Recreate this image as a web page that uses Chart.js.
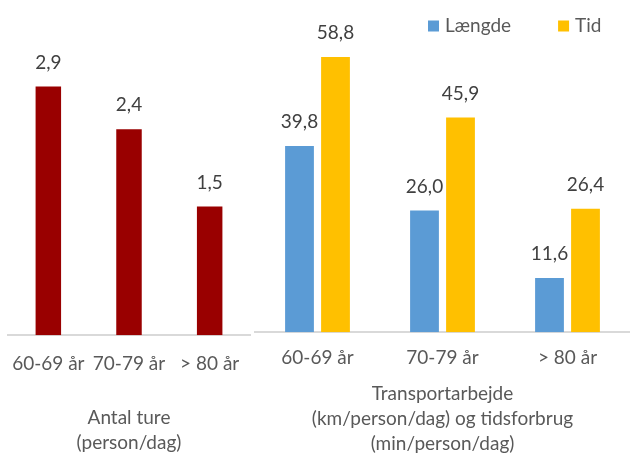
<!DOCTYPE html>
<html>
<head>
<meta charset="utf-8">
<script src="https://cdn.jsdelivr.net/npm/chart.js@4.4.1/dist/chart.umd.min.js"></script>
<style>
  html, body { margin: 0; padding: 0; background: #fff; }
  #wrap { position: relative; width: 630px; height: 453px; overflow: hidden; }
  .box { position: absolute; top: 0; height: 453px; }
  #left { left: 0; width: 252px; }
  #right { left: 252px; width: 378px; }
</style>
</head>
<body>
<div id="wrap">
  <div class="box" id="left"><canvas id="tripsChart"></canvas></div>
  <div class="box" id="right"><canvas id="workChart"></canvas></div>
</div>
<script>
// Data
const ageGroups = ['60-69 år', '70-79 år', '> 80 år'];
const tripsPerDay = [2.9, 2.4, 1.5];
const distanceKm = [39.8, 26.0, 11.6];
const timeMin = [58.8, 45.9, 26.4];
const seriesNames = ['Længde', 'Tid'];
const tripsTitle = ['Antal ture', '(person/dag)'];
const workTitle = ['Transportarbejde', '(km/person/dag) og tidsforbrug', '(min/person/dag)'];

const FONT = 'Lato, "Open Sans", sans-serif';
Chart.defaults.font.family = FONT;
Chart.defaults.font.size = 19;
Chart.defaults.color = '#595959';

// value above each bar, danish decimal comma
const valueLabels = {
    id: 'valueLabels',
    afterDatasetsDraw(chart) {
        const ctx = chart.ctx;
        ctx.save();
        ctx.font = '19px ' + FONT;
        ctx.fillStyle = '#404040';
        ctx.textAlign = 'center';
        ctx.textBaseline = 'middle';
        chart.data.datasets.forEach((ds, i) => {
            chart.getDatasetMeta(i).data.forEach((bar, j) => {
                ctx.fillText(ds.data[j].toFixed(1).replace('.', ','), bar.x, bar.y - 24);
            });
        });
        ctx.restore();
    }
};

// small legend in the top right corner, drawn over the plot
const cornerLegend = {
    id: 'cornerLegend',
    afterDraw(chart, args, opts) {
        const ctx = chart.ctx;
        let x = opts.x;
        ctx.save();
        ctx.font = '19px ' + FONT;
        ctx.textBaseline = 'middle';
        ctx.textAlign = 'left';
        chart.data.datasets.forEach(ds => {
            ctx.fillStyle = ds.backgroundColor;
            ctx.fillRect(x, opts.y - 5.5, 11, 11);
            ctx.fillStyle = '#595959';
            ctx.fillText(ds.label, x + 17, opts.y);
            x += 17 + ctx.measureText(ds.label).width + opts.spacing;
        });
        ctx.restore();
    }
};

function xAxis(title, tickPad, titleTop, titleBottom) {
    return {
        grid: { display: false },
        border: { display: true, color: '#d9d9d9', width: 2 },
        ticks: { padding: tickPad, maxRotation: 0, autoSkip: false, font: { size: 19 } },
        title: {
            display: true,
            text: title,
            font: { size: 19, lineHeight: 25 / 19 },
            padding: { top: titleTop, bottom: titleBottom }
        }
    };
}

new Chart(document.getElementById('tripsChart'), {
    type: 'bar',
    data: {
        labels: ageGroups,
        datasets: [{
            data: tripsPerDay,
            backgroundColor: '#990000',
            categoryPercentage: 0.8,
            barPercentage: 0.395
        }]
    },
    options: {
        responsive: true,
        maintainAspectRatio: false,
        animation: false,
        layout: { padding: { top: 35, left: 8, right: 2, bottom: 0 } },
        plugins: { legend: { display: false }, tooltip: { enabled: false } },
        scales: {
            x: xAxis(tripsTitle, 9, 21, -2),
            y: { display: false, min: 0, max: 3.5 }
        }
    },
    plugins: [valueLabels]
});

new Chart(document.getElementById('workChart'), {
    type: 'bar',
    data: {
        labels: ageGroups,
        datasets: [
            { label: seriesNames[0], data: distanceKm, backgroundColor: '#5b9bd5', categoryPercentage: 0.576, barPercentage: 0.8 },
            { label: seriesNames[1], data: timeMin, backgroundColor: '#ffc000', categoryPercentage: 0.576, barPercentage: 0.8 }
        ]
    },
    options: {
        responsive: true,
        maintainAspectRatio: false,
        animation: false,
        layout: { padding: { top: 28, left: 3, right: 0, bottom: 0 } },
        plugins: {
            legend: { display: false },
            tooltip: { enabled: false },
            cornerLegend: { x: 176, y: 26, spacing: 47 }
        },
        scales: {
            x: xAxis(workTitle, 6, 6, -3),
            y: { display: false, min: 0, max: 65 }
        }
    },
    plugins: [valueLabels, cornerLegend]
});
</script>
</body>
</html>
